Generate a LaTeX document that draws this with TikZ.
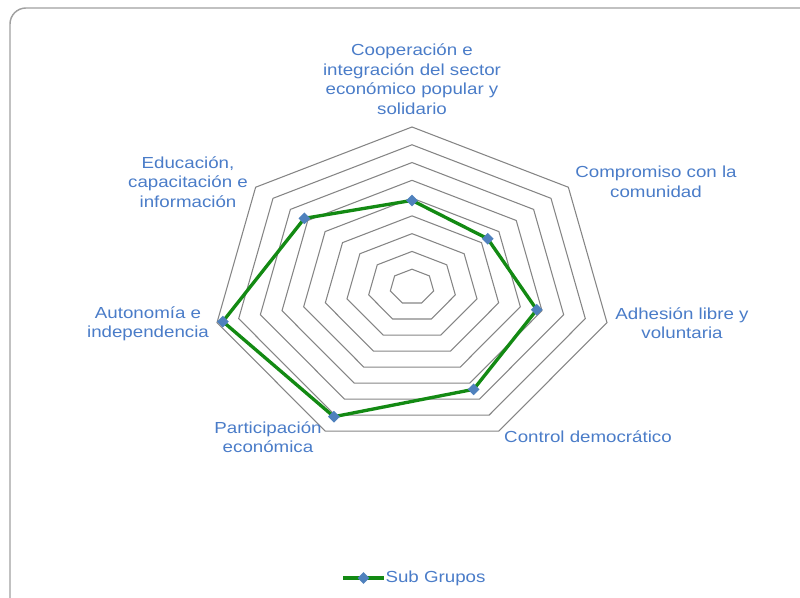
\documentclass[tikz,border=0pt]{standalone}
\usepackage{fontspec}
\setmainfont[FakeStretch=1.17]{Liberation Sans}
\usetikzlibrary{shapes,positioning,calc}

\definecolor{labelblue}{HTML}{4A7CC8}
\definecolor{ringgray}{HTML}{858585}
\definecolor{framegray}{HTML}{A0A0A0}
\definecolor{seriesgreen}{HTML}{138A13}
\definecolor{markblue}{HTML}{4F81BD}

\begin{document}
\begin{tikzpicture}[x=0.75pt,y=0.75pt,
    ring/.style={draw=ringgray,line width=0.8pt},
    axislabel/.style={text=labelblue,align=center,font=\fontsize{12}{14.6}\selectfont},
    datapt/.style={diamond,fill=markblue,inner sep=0pt,minimum size=9pt},
    series/.style={draw=seriesgreen,line width=2.5pt,line join=round}]
  \useasboundingbox (0,0) rectangle (800,598);
  \begin{scope}
    \clip (0,0) rectangle (800,598);
    \draw[framegray,line width=1.1pt,rounded corners=12pt] (10,-30) rectangle (840,590);
  \end{scope}
  % rings of the radar
  \begin{scope}[shift={(412,311)}]
    \foreach \r in {1,...,9}
      \draw[ring] (90:{200*\r/9} and {160*\r/9})
        \foreach \k in {1,...,6} {-- ({90-360/7*\k}:{200*\r/9} and {160*\r/9})} -- cycle;
    % data values
    \coordinate (coop) at (90:{200*0.541} and {160*0.541});
    \coordinate (comp) at ({90-360/7}:{200*0.484} and {160*0.484});
    \coordinate (adh)  at ({90-720/7}:{200*0.64} and {160*0.64});
    \coordinate (ctrl) at ({90-1080/7}:{200*0.71} and {160*0.71});
    \coordinate (part) at ({90-1440/7}:{200*0.90} and {160*0.90});
    \coordinate (auto) at ({90-1800/7}:{200*0.97} and {160*0.97});
    \coordinate (edu)  at ({90-2160/7}:{200*0.688} and {160*0.688});
  \end{scope}
  \draw[series] (coop) -- (comp) -- (adh) -- (ctrl) -- (part) -- (auto) -- (edu) -- cycle;
  \foreach \p in {coop,comp,adh,ctrl,part,auto,edu}
    \node[datapt] (\p mark) at (\p) {};
  % axis labels
  \node[axislabel] (lcoop) at (412,519) {Cooperación e\\integración del sector\\económico popular y\\solidario};
  \node[axislabel] (lcomp) at (656,416) {Compromiso con la\\comunidad};
  \node[axislabel] (ladh)  at (682,275) {Adhesión libre y\\voluntaria};
  \node[axislabel] (lctrl) at (588,161) {Control democrático};
  \node[axislabel] (lpart) at (268,161) {Participación\\económica};
  \node[axislabel] (lauto) at (148,274) {Autonomía e\\independencia};
  \node[axislabel] (ledu)  at (188,416) {Educación,\\capacitación e\\información};
  % legend
  \coordinate (legA) at (343,20);
  \coordinate (legB) at (384,20);
  \draw[series] (legA) -- (legB);
  \node[datapt] (legmark) at ($(legA)!0.5!(legB)$) {};
  \node[axislabel,anchor=west,inner sep=1pt] (legtext) at (legB) {Sub Grupos};
\end{tikzpicture}
\end{document}
